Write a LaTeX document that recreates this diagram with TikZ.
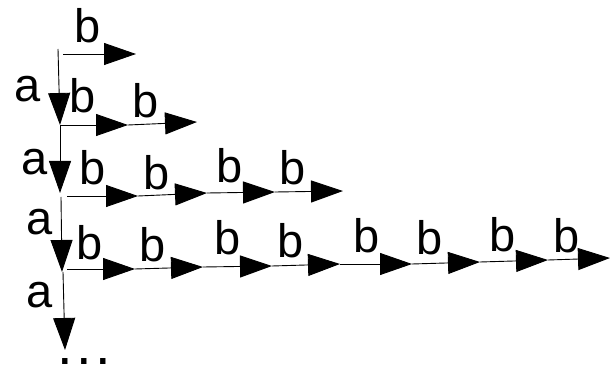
\documentclass[tikz,border=0pt]{standalone}
\usepackage{fontspec}
\setmainfont{Liberation Sans}
\usetikzlibrary{arrows.meta}
\begin{document}
\begin{tikzpicture}[x=1pt,y=-1pt,
  edge/.style={line width=0.9pt,-{Triangle[length=32pt,width=22pt]}},
  lbl/.style={anchor=base,inner sep=0pt,font=\fontsize{47}{47}\selectfont}]
\useasboundingbox (0,0) rectangle (611,366);
% vertical spine
\coordinate (v0) at (58,49);
\coordinate (v1) at (60,125);
\coordinate (v2) at (60,193);
\coordinate (v3) at (62,272);
\coordinate (v4) at (65,350);
\draw[edge] (v0) -- (v1);
\draw[edge] (v1) -- (v2);
\draw[edge] (61,197) coordinate (v2s) -- (v3);
\draw[edge] (63,272) coordinate (v3s) -- (v4);
% level 0
\coordinate (h00) at (63,54);
\coordinate (h01) at (136,54);
\draw[edge] (h00) -- (h01);
% level 1
\coordinate (h11) at (128,125);
\coordinate (h12) at (197,122);
\draw[edge] (v1) -- (h11);
\draw[edge] (h11) -- (h12);
% level 2
\coordinate (h20) at (67,196);
\coordinate (h21) at (138,196);
\coordinate (h22) at (207,193);
\coordinate (h23) at (275,192);
\coordinate (h24) at (343,191);
\draw[edge] (h20) -- (h21);
\draw[edge] (h21) -- (h22);
\draw[edge] (h22) -- (h23);
\draw[edge] (h23) -- (h24);
% level 3
\coordinate (h30) at (67,269);
\coordinate (h31) at (135,269);
\coordinate (h32) at (203,267);
\coordinate (h33) at (272,266);
\coordinate (h34) at (340,264);
\coordinate (h35) at (412,264);
\coordinate (h36) at (480,262);
\coordinate (h37) at (548,260);
\coordinate (h38) at (610,258);
\draw[edge] (h30) -- (h31);
\draw[edge] (h31) -- (h32);
\draw[edge] (h32) -- (h33);
\draw[edge] (h33) -- (h34);
\draw[edge] (h34) -- (h35);
\draw[edge] (h35) -- (h36);
\draw[edge] (h36) -- (h37);
\draw[edge] (h37) -- (h38);
% labels a
\node[lbl] (a1) at (28,102) {a};
\node[lbl] (a2) at (35,175) {a};
\node[lbl] (a3) at (40,235) {a};
\node[lbl] (a4) at (40,308) {a};
% labels b
\node[lbl] (b00) at (88,43) {b};
\node[lbl] (b11) at (83,113) {b};
\node[lbl] (b12) at (146,118) {b};
\node[lbl] (b21) at (93,185) {b};
\node[lbl] (b22) at (157,190) {b};
\node[lbl] (b23) at (230,183) {b};
\node[lbl] (b24) at (293,185) {b};
\node[lbl] (b31) at (90,260) {b};
\node[lbl] (b32) at (153,262) {b};
\node[lbl] (b33) at (228,255) {b};
\node[lbl] (b34) at (291,258) {b};
\node[lbl] (b35) at (367,253) {b};
\node[lbl] (b36) at (430,255) {b};
\node[lbl] (b37) at (503,252) {b};
\node[lbl] (b38) at (567,253) {b};
% dots
\node[lbl,font=\fontsize{56}{56}\selectfont,text depth=0pt] (dots) at (84,364) {.\kern3.5pt.\kern3.5pt.};
\end{tikzpicture}
\end{document}
